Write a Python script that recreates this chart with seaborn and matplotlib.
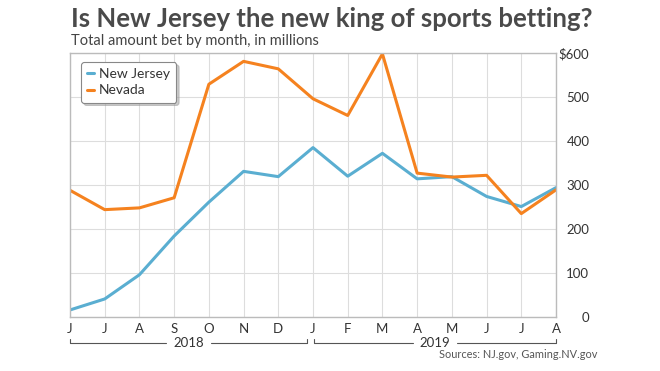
import matplotlib
matplotlib.use("Agg")
import matplotlib.pyplot as plt
import seaborn as sns
import pandas as pd
from matplotlib.lines import Line2D

months = ["J", "J", "A", "S", "O", "N", "D", "J", "F", "M", "A", "M", "J", "J", "A"]
new_jersey = [16, 41, 96, 184, 261, 331, 319, 385, 320, 372, 314, 319, 274, 251, 294]
nevada = [288, 244, 248, 271, 529, 581, 564, 496, 458, 598, 327, 318, 322, 235, 289]
years = ["2018", "2019"]
yticks = [0, 100, 200, 300, 400, 500, 600]
ytick_labels = ["0", "100", "200", "300", "400", "500", "$600"]

sns.set_style("white")
plt.rcParams["font.family"] = ["Lato", "DejaVu Sans"]

df = pd.DataFrame({
    "idx": list(range(len(months))) * 2,
    "value": new_jersey + nevada,
    "series": ["New Jersey"] * len(months) + ["Nevada"] * len(months),
})

W, H = 660, 371
fig = plt.figure(figsize=(6.6, 3.71), dpi=100)
ax = fig.add_axes([70 / W, 1 - 317 / H, (556 - 70) / W, (317 - 53) / H])

palette = {"New Jersey": "#5aaed1", "Nevada": "#f5821f"}
sns.lineplot(data=df, x="idx", y="value", hue="series", palette=palette,
             linewidth=2.2, ax=ax, legend=False)

ax.set_xlim(0, len(months) - 1)
ax.set_ylim(0, 600)
ax.set_xticks(range(len(months)))
ax.set_xticklabels(months)
ax.set_yticks(yticks)
ax.set_yticklabels(ytick_labels)
ax.yaxis.tick_right()
ax.tick_params(axis="both", length=0, labelsize=9.5, colors="#333333")
ax.tick_params(axis="y", pad=24)
for lab in ax.get_yticklabels():
    lab.set_horizontalalignment("right")
ax.tick_params(axis="x", pad=4)
ax.set_xlabel("")
ax.set_ylabel("")
ax.grid(True, color="#dddddd", linewidth=0.8)
for s in ax.spines.values():
    s.set_color("#bbbbbb")
    s.set_linewidth(1.0)

# legend
handles = [Line2D([], [], color=palette[k], linewidth=2.2) for k in ["New Jersey", "Nevada"]]
leg = ax.legend(handles, ["New Jersey", "Nevada"], loc="upper left",
                bbox_to_anchor=(11 / 486, 1 - 9 / 264), frameon=True, fancybox=True,
                shadow={"ox": 2, "oy": -2, "color": "#999999", "alpha": 0.5},
                handlelength=0.5, handletextpad=0.35,
                fontsize=10, borderpad=0.45, labelspacing=0.3, borderaxespad=0)
leg.get_frame().set_edgecolor("#888888")
leg.get_frame().set_facecolor("white")
leg.get_frame().set_linewidth(0.8)
for t in leg.get_texts():
    t.set_color("#333333")

# year brackets
trans = ax.get_xaxis_transform()
ybr = -(343 - 317) / 264
tick_h = 4 / 264
spans = [(0, 6.83), (7.03, 14)]
for (a, b), yr in zip(spans, years):
    mid = (a + b) / 2
    gap = 0.64
    ax.plot([a, a, mid - gap], [ybr + tick_h, ybr, ybr], transform=trans,
            color="#555555", linewidth=0.8, clip_on=False)
    ax.plot([mid + gap, b, b], [ybr, ybr, ybr + tick_h], transform=trans,
            color="#555555", linewidth=0.8, clip_on=False)
    ax.text(mid, ybr, yr, transform=trans, ha="center", va="center",
            fontsize=9.5, color="#333333")

fig.text(71 / W, 1 - 27 / H, "Is New Jersey the new king of sports betting?",
         fontsize=18.5, fontweight="bold", color="#4a4a4a", va="baseline", ha="left")
fig.text(71 / W, 1 - 45 / H, "Total amount bet by month, in millions",
         fontsize=10.5, color="#444444", va="baseline", ha="left")
fig.text(597 / W, 1 - 354 / H, "Sources: NJ.gov, Gaming.NV.gov",
         fontsize=7.9, color="#555555", va="center", ha="right")

fig.savefig("out.png", dpi=100)
